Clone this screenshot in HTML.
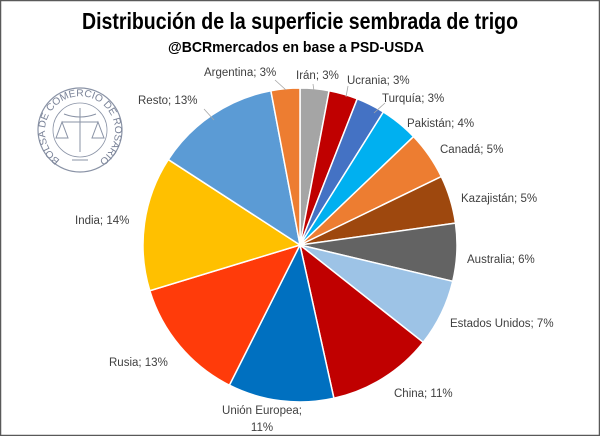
<!DOCTYPE html>
<html><head><meta charset="utf-8"><style>
html,body{margin:0;padding:0;background:#fff;}
svg{display:block;}
text{font-family:"Liberation Sans",sans-serif;}
.l{font-size:11.5px;fill:#404040;}
</style></head><body>
<svg id="s" width="600" height="436" viewBox="0 0 600 436" xmlns="http://www.w3.org/2000/svg">
<rect x="0.5" y="0.5" width="599" height="435" fill="#fff" stroke="#595959" stroke-width="1.5"/>
<text x="300" y="29" text-anchor="middle" font-size="23" font-weight="bold" fill="#000" textLength="436" lengthAdjust="spacingAndGlyphs">Distribución de la superficie sembrada de trigo</text>
<text x="296" y="52" text-anchor="middle" font-size="15" font-weight="bold" fill="#000" textLength="256" lengthAdjust="spacingAndGlyphs">@BCRmercados en base a PSD-USDA</text>
<g id="pie"></g>
<g stroke="#a6a6a6" stroke-width="0.8" fill="none">
<path d="M204 109 L214 120"/><path d="M275 80 L286 90"/><path d="M313 84 L314 91"/><path d="M348 86 L346 97"/><path d="M385 103 L374 113"/>
</g>
<text class="l" x="204" y="76">Argentina; 3%</text>
<text class="l" x="296" y="79">Irán; 3%</text>
<text class="l" x="347" y="84">Ucrania; 3%</text>
<text class="l" x="382" y="102">Turquía; 3%</text>
<text class="l" x="407" y="127">Pakistán; 4%</text>
<text class="l" x="440" y="153">Canadá; 5%</text>
<text class="l" x="461" y="202">Kazajistán; 5%</text>
<text class="l" x="467" y="263">Australia; 6%</text>
<text class="l" x="450" y="327">Estados Unidos; 7%</text>
<text class="l" x="394" y="397">China; 11%</text>
<text class="l" x="262" y="414" text-anchor="middle">Unión Europea;</text>
<text class="l" x="262" y="431" text-anchor="middle">11%</text>
<text class="l" x="109" y="366">Rusia; 13%</text>
<text class="l" x="75" y="224">India; 14%</text>
<text class="l" x="138" y="104">Resto; 13%</text>
<g fill="none" stroke="#8a93a6">
<circle cx="80" cy="130" r="42" stroke-width="1.2"/>
<circle cx="80" cy="130" r="27" stroke-width="0.8"/>
<path d="M80 108 L80 152 M62 122 L98 122 M62 122 L56 138 L68 138 Z M98 122 L92 138 L104 138 Z M64 114 Q80 120 96 114 M72 160 L88 160" stroke-width="1"/>
</g>
<defs><path id="arc" d="M 60 160 A 35 35 0 1 1 100 160"/></defs>
<text font-size="10" fill="#7a8398"><textPath href="#arc" textLength="178" lengthAdjust="spacingAndGlyphs">BOLSA DE COMERCIO DE ROSARIO</textPath></text>
</svg>
<script>
var data=[[3,"#a5a5a5"],[3,"#c00000"],[3,"#4472c4"],[4,"#00b0f0"],[5,"#ed7d31"],[5,"#9e480e"],[6,"#636363"],[7,"#9dc3e6"],[11,"#c00000"],[11,"#0070c0"],[13,"#ff3b0a"],[14,"#ffc000"],[13,"#5b9bd5"],[3,"#ed7d31"]];
var cx=300,cy=245,r=157,tot=101,a=0,g=document.getElementById("pie"),h="";
data.forEach(function(d){var a2=a+d[0]/tot*2*Math.PI;
var x1=cx+r*Math.sin(a),y1=cy-r*Math.cos(a),x2=cx+r*Math.sin(a2),y2=cy-r*Math.cos(a2);
h+='<path d="M'+cx+' '+cy+' L'+x1+' '+y1+' A'+r+' '+r+' 0 '+((a2-a)>Math.PI?1:0)+' 1 '+x2+' '+y2+' Z" fill="'+d[1]+'" stroke="#fff" stroke-width="1.5"/>';a=a2;});
g.innerHTML=h;
</script>
</body></html>
